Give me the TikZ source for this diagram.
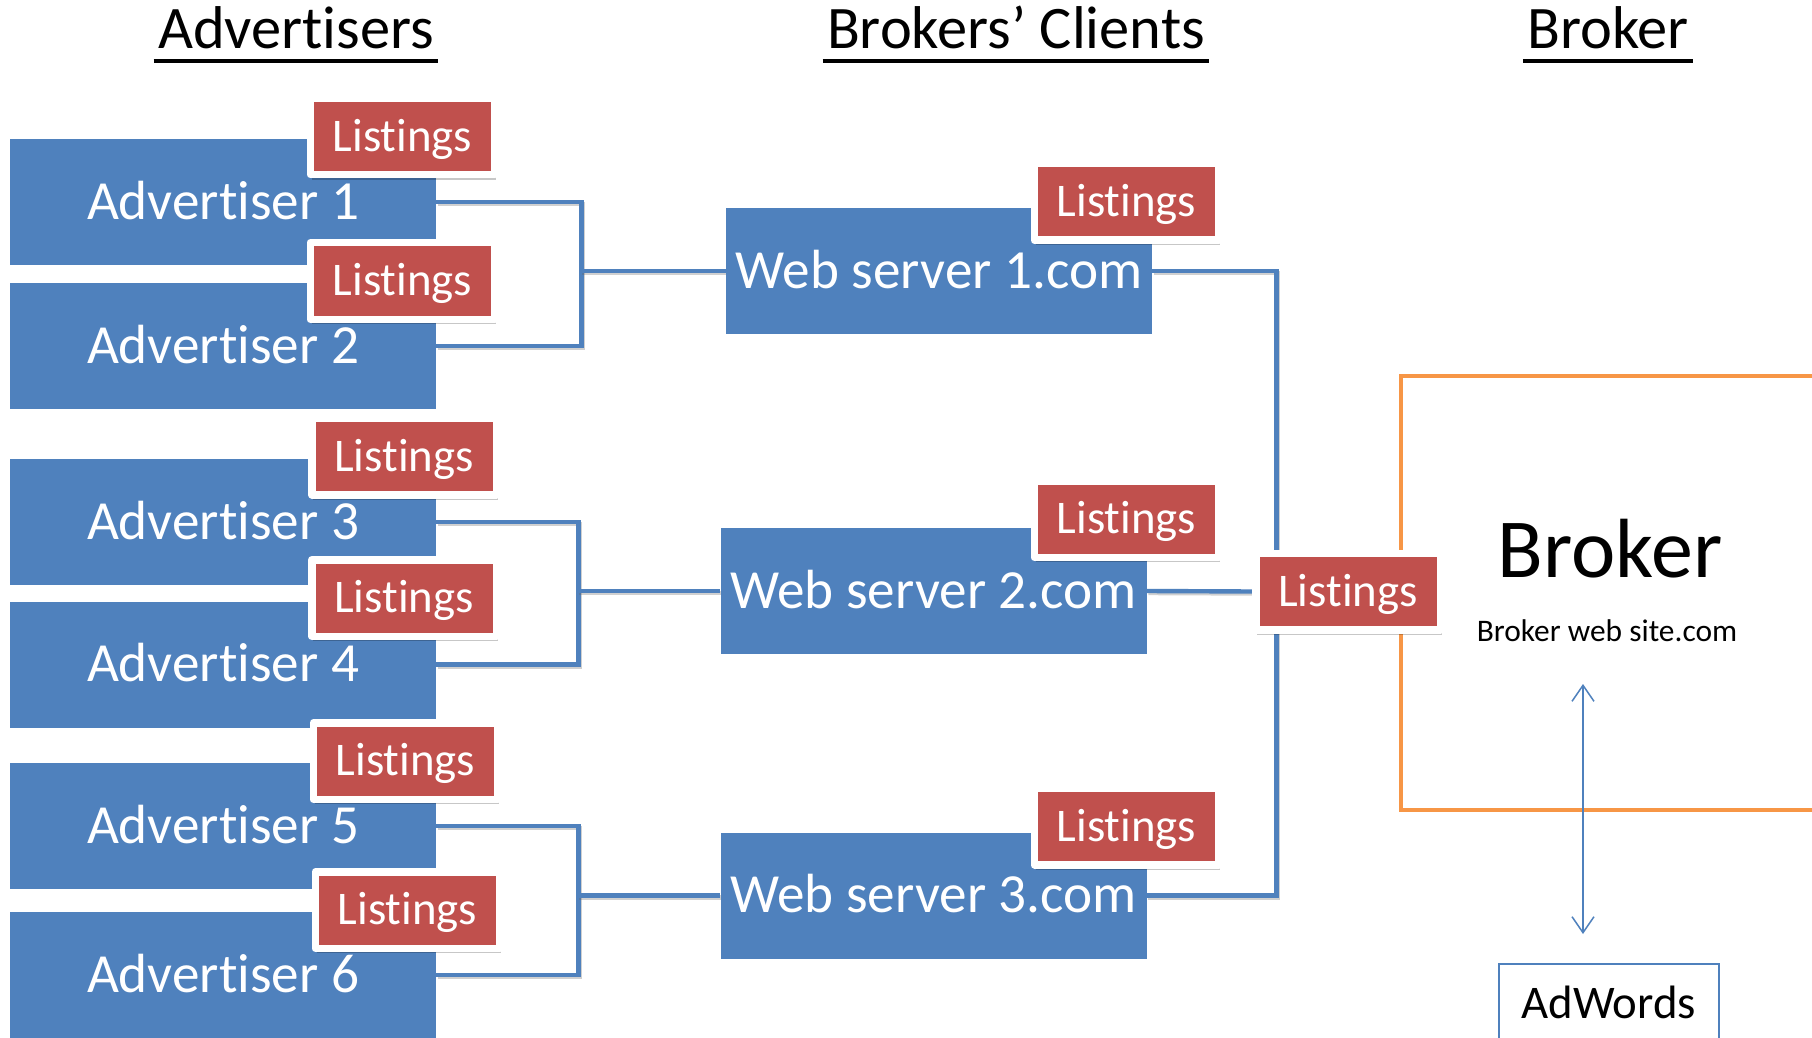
\documentclass[tikz,border=0pt]{standalone}
\usepackage{fontspec}
\setmainfont{Carlito}[Ligatures=NoCommon]
\usetikzlibrary{arrows.meta,shadows,backgrounds}
\definecolor{boxblue}{HTML}{4F81BD}
\definecolor{listred}{HTML}{C0504D}
\definecolor{brokerorange}{HTML}{F79646}
\tikzset{
  party/.style={fill=boxblue, text=white, inner sep=0pt,
    minimum width=213pt, minimum height=63pt,
    font=\fontsize{27.6pt}{30pt}\selectfont, text height=17.4pt, text depth=0pt},
  listing/.style={fill=listred, draw=white, line width=3.75pt, line join=round,
    text=white, inner sep=0pt, minimum width=92.25pt, minimum height=38.25pt,
    font=\fontsize{23.4pt}{26pt}\selectfont, text height=14.8pt, text depth=0pt,
    drop shadow={shadow xshift=0.8pt, shadow yshift=-2.6pt, opacity=0.22, fill=black}},
  heading/.style={anchor=base, inner sep=0pt, font=\fontsize{30.2pt}{33pt}\selectfont},
  headline/.style={line width=2pt},
  link/.style={draw=boxblue, line width=2.2pt,
    preaction={draw=black!60, opacity=0.3, line width=2.2pt,
      transform canvas={xshift=0.7pt, yshift=-1pt}}},
  twoway/.style={draw=boxblue, line width=0.75pt,
    {Straight Barb[length=8pt,width=11pt]}-{Straight Barb[length=8pt,width=11pt]}},
}
\begin{document}
\begin{tikzpicture}[x=0.5pt, y=-0.5pt]
  \useasboundingbox (0,0) rectangle (1812,1038);
  \clip (0,0) rectangle (1812,1038);

  % column headings
  \node[heading] (hadv) at (296,49) {Advertisers};
  \node[heading] (hcli) at (1016,49) {Brokers’ Clients};
  \node[heading] (hbro) at (1608,49) {Broker};
  \foreach \h in {hadv,hcli,hbro}
    \draw[headline] ([yshift=-6pt,xshift=-2pt]\h.base west) -- ([yshift=-6pt,xshift=2pt]\h.base east);

  % advertisers
  \node[party] (a1) at (223,202)   {Advertiser 1};
  \node[party] (a2) at (223,346)   {Advertiser 2};
  \node[party] (a3) at (223,522)   {Advertiser 3};
  \node[party] (a4) at (223,664.5) {Advertiser 4};
  \node[party] (a5) at (223,826)   {Advertiser 5};
  \node[party] (a6) at (223,975)   {Advertiser 6};

  \node[listing] (l1) at (402.5,136.5) {Listings};
  \node[listing] (l2) at (402.5,281)   {Listings};
  \node[listing] (l3) at (404,456.5)   {Listings};
  \node[listing] (l4) at (404,598)     {Listings};
  \node[listing] (l5) at (405.5,761)   {Listings};
  \node[listing] (l6) at (407.5,910)   {Listings};

  % brokers' clients
  \node[party] (w1) at (939,271)     {Web server 1.com};
  \node[party] (w2) at (933.5,591)   {Web server 2.com};
  \node[party] (w3) at (933.5,895.5) {Web server 3.com};

  \node[listing] (wl1) at (1126.5,202)   {Listings};
  \node[listing] (wl2) at (1126.5,519)   {Listings};
  \node[listing] (wl3) at (1126.5,826.5) {Listings};

  % broker
  \node[draw=brokerorange, line width=2.2pt, anchor=north west, inner sep=0pt,
        minimum width=215.5pt, minimum height=217pt] (brokerbox) at (1399,374) {};
  \node[anchor=base, inner sep=0pt, font=\fontsize{42pt}{46pt}\selectfont]
        (brokername) at (1610,577.5) {Broker};
  \node[anchor=base, inner sep=0pt, font=\fontsize{15.7pt}{18pt}\selectfont]
        (brokersite) at (1607,641) {Broker web site.com};
  \node[listing] (bl) at (1348,591.5) {Listings};

  \node[draw=boxblue, line width=0.75pt, anchor=north west, inner sep=0pt,
        minimum width=110pt, minimum height=39.5pt,
        font=\fontsize{23.4pt}{26pt}\selectfont, text height=14.8pt, text depth=0pt]
        (adwords) at (1498,963) {AdWords};

  \coordinate (upend) at (1583,684);
  \coordinate (downend) at (1583,934);
  \draw[twoway] (upend) -- (downend);

  % connectors behind the boxes
  \begin{scope}[on background layer]
    \fill[white] (0,0) rectangle (1812,1038);
    \draw[link] (a1.east) -- ++(145,0) |- (a2.east);
    \draw[link] (a3.east) -- ++(142,0) |- (a4.east);
    \draw[link] (a5.east) -- ++(142,0) |- (a6.east);
    \draw[link] (w1.west) -- ++(-145,0);
    \draw[link] (w2.west) -- ++(-143,0);
    \draw[link] (w3.west) -- ++(-143,0);
    \draw[link] (w1.east) -- ++(124,0) |- (w3.east);
    \draw[link] (w2.east) -- (bl.west);
  \end{scope}
\end{tikzpicture}
\end{document}
